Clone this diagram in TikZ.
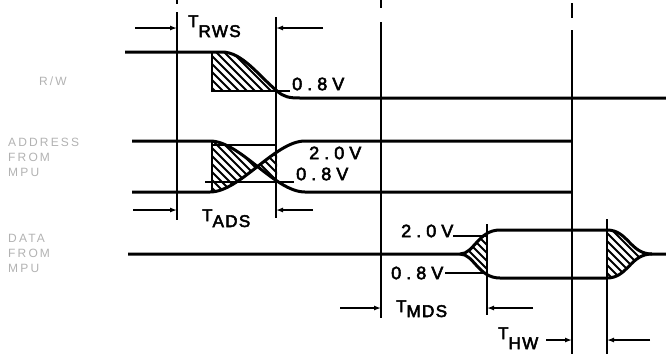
\documentclass[tikz,border=0pt]{standalone}
\usepackage{fontspec}
\setmainfont{Liberation Sans}
\newfontfamily\voltfont[LetterSpace=28,FakeBold=3]{Liberation Sans}
\newfontfamily\timefont[LetterSpace=8,FakeBold=3]{Liberation Sans}
\newfontfamily\namefont[LetterSpace=18]{Liberation Sans}
\usetikzlibrary{arrows.meta}

\tikzset{
    signal/.style = {
        line width=3pt,
        black,
        line join=round
    },
    guide/.style = {
        line width=1.3pt,
        black
    },
    edge/.style = {
        line width=1.8pt,
        black
    },
    hatchline/.style = {
        line width=1.8pt,
        black
    },
    dim/.style = {
        line width=1.3pt,
        -{Latex[length=7pt,width=5pt]}
    },
    volt/.style = {
        inner sep=0pt,
        anchor=west,
        font=\fontsize{18}{20}\voltfont
    },
    timing/.style = {
        inner sep=0pt,
        anchor=base west,
        font=\fontsize{17}{20}\timefont
    },
    signame/.style = {
        inner sep=0pt,
        anchor=north west,
        align=left,
        text=gray!60,
        font=\fontsize{12}{15}\namefont
    }
}
\newcommand{\tsub}[2][8pt]{T\raisebox{-#1}{#2}}

\begin{document}
\begin{tikzpicture}[x=1pt,y=-1pt]
    \useasboundingbox (0,0) rectangle (666,354);

    % Draw guide lines
    \draw[guide] (177,0) -- (177,4) (177,12) -- (177,220);
    \draw[guide] (276,17) -- (276,218);
    \draw[guide] (381,0) -- (381,8) (381,22) -- (381,318);
    \draw[guide] (572,3) -- (572,18) (572,30) -- (572,354);
    \draw[guide] (487,224) -- (487,315);
    \draw[guide] (607,219) -- (607,354);

    % Draw hatched areas
    \begin{scope}
        \clip (212,52) -- (222,52) .. controls (242,52) and (258,75) .. (277,91) -- (212,91) -- cycle;
        \foreach \x in {140,148,...,280} \draw[hatchline] (\x,40) -- ++(70,70);
    \end{scope}
    \draw[edge] (212,52) -- (212,91) -- (290,91);
    %
    \begin{scope}
        \clip (212,130) rectangle (277,200);
        \clip (210,141) .. controls (240,141) and (275,192) .. (305,192) -- (305,141) .. controls (275,141) and (240,192) .. (210,192) -- cycle;
        \foreach \x in {130,138,...,280} \draw[hatchline] (\x,130) -- ++(75,75);
    \end{scope}
    \draw[edge] (212,141) -- (212,192);
    \draw[guide] (212,145) -- (277,145);
    \draw[guide] (205,182) -- (294,182);
    %
    \begin{scope}
        \clip (450,220) rectangle (487,290);
        \clip (460,254) .. controls (474,254) and (478,230) .. (500,230) -- (500,278) .. controls (478,278) and (474,254) .. (460,254) -- cycle;
        \foreach \x in {390,398,...,490} \draw[hatchline] (\x,220) -- ++(75,75);
    \end{scope}
    \begin{scope}
        \clip (607,230) .. controls (628,230) and (630,254) .. (652,254) .. controls (630,254) and (628,278) .. (607,278) -- cycle;
        \foreach \x in {530,538,...,660} \draw[hatchline] (\x,220) -- ++(75,75);
    \end{scope}
    \draw[guide] (453,236) -- (487,236);
    \draw[guide] (445,273) -- (487,273);

    % Draw signals
    \draw[signal] (125,52) -- (222,52) .. controls (242,52) and (258,75) .. (277,91) .. controls (284,97) and (289,98) .. (300,98) -- (666,98);
    \draw[signal] (132,141) -- (210,141) .. controls (240,141) and (275,192) .. (305,192) -- (572,192);
    \draw[signal] (132,192) -- (210,192) .. controls (240,192) and (275,141) .. (305,141) -- (572,141);
    \draw[signal] (128,254) -- (460,254) .. controls (474,254) and (478,230) .. (500,230) -- (607,230) .. controls (628,230) and (630,254) .. (652,254) -- (666,254);
    \draw[signal] (460,254) .. controls (474,254) and (478,278) .. (500,278) -- (607,278) .. controls (628,278) and (630,254) .. (652,254);

    % Draw arrows
    \draw[dim] (135,28) -- (177,28);
    \draw[dim] (323,28) -- (276,28);
    \draw[dim] (133,210) -- (177,210);
    \draw[dim] (313,210) -- (276,210);
    \draw[dim] (340,308) -- (381,308);
    \draw[dim] (533,308) -- (487,308);
    \draw[dim] (546,340) -- (572,340);
    \draw[dim] (650,340) -- (607,340);

    % Draw labels
    \node[volt] (rwlow) at (292,84) {0.8V};
    \node[volt] (adhigh) at (309,153) {2.0V};
    \node[volt] (adlow) at (296,174) {0.8V};
    \node[volt] (dahigh) at (401,231) {2.0V};
    \node[volt] (dalow) at (391,273) {0.8V};
    \node[timing] (trws) at (188,27) {\tsub[10pt]{RWS}};
    \node[timing] (tads) at (202,221) {\tsub[6pt]{ADS}};
    \node[timing] (tmds) at (396,312) {\tsub[5pt]{MDS}};
    \node[timing] (thw) at (498,339) {\tsub[10pt]{HW}};
    \node[signame, anchor=center] (rw) at (53,81) {R/W};
    \node[signame] (addr) at (8,138) {ADDRESS\\FROM\\MPU};
    \node[signame] (data) at (8,234) {DATA\\FROM\\MPU};
\end{tikzpicture}
\end{document}
